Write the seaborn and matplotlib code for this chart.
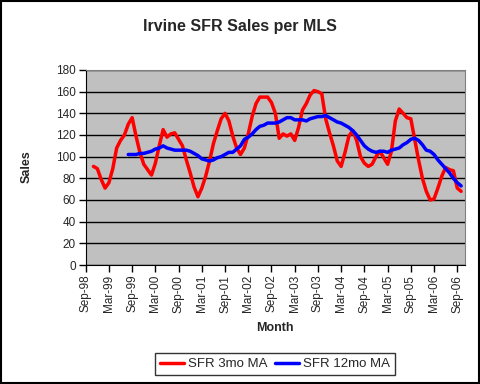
import numpy as np
import pandas as pd
import matplotlib
matplotlib.use("Agg")
import matplotlib.pyplot as plt
from matplotlib.patches import Rectangle
import seaborn as sns

# months Sep-98 .. Oct-06
months = pd.period_range("1998-09", "2006-10", freq="M")

# SFR 3-month moving average, Nov-98 .. Oct-06
sfr_3mo = [91, 89, 79, 71, 76, 89, 108, 115, 120, 130, 136, 119, 104, 93, 88, 83,
           94, 110, 125, 118, 121, 122, 116, 110, 97, 85, 72, 63, 71, 82, 96, 112,
           124, 135, 140, 133, 119, 108, 102, 108, 121, 137, 149, 155, 155, 155, 150, 140,
           117, 121, 119, 121, 115, 127, 143, 149, 157, 161, 160, 158, 135, 122, 110, 96,
           91, 104, 119, 124, 115, 100, 94, 91, 93, 100, 105, 99, 93, 105, 133, 144,
           140, 136, 135, 116, 97, 80, 68, 60, 61, 71, 82, 90, 88, 87, 71, 68]

# SFR 12-month moving average, Aug-99 .. Oct-06
sfr_12mo = [102, 102, 102, 103, 103, 104, 105, 107, 108, 110, 108, 107, 106, 106, 106, 106,
            105, 103, 101, 98, 97, 96, 97, 99, 100, 102, 104, 104, 107, 110, 116, 118,
            121, 125, 128, 129, 131, 131, 131, 132, 134, 136, 136, 134, 134, 134, 133, 135,
            136, 137, 137, 138, 136, 134, 132, 131, 129, 127, 124, 120, 115, 110, 107, 105,
            104, 105, 105, 104, 106, 107, 108, 111, 113, 116, 117, 115, 111, 106, 105, 102,
            97, 93, 89, 85, 80, 76, 73]

y_ticks = list(range(0, 181, 20))

n = len(months)
x_3mo = np.arange(n - len(sfr_3mo), n)
x_12mo = np.arange(n - len(sfr_12mo), n)
tick_pos = np.arange(0, n, 6)
tick_labels = [months[i].strftime("%b-%y") for i in tick_pos]

sns.set_style("white")
plt.rcParams["font.family"] = ["Liberation Sans", "DejaVu Sans"]

W, H = 480, 384
fig = plt.figure(figsize=(W / 100, H / 100), dpi=100)
left, right, top, bottom = 85.7, 465, 70, 265
ax = fig.add_axes([left / W, 1 - bottom / H, (right - left) / W, (bottom - top) / H])
ax.set_facecolor("#C0C0C0")

sns.lineplot(x=x_3mo, y=sfr_3mo, ax=ax, color="#FF0000", lw=2.5, label="SFR 3mo MA")
sns.lineplot(x=x_12mo, y=sfr_12mo, ax=ax, color="#0000FF", lw=2.5, label="SFR 12mo MA")

ax.set_xlim(0, 98)
ax.set_ylim(0, 180)
ax.set_yticks(y_ticks)
ax.set_yticklabels([str(v) for v in y_ticks], fontsize=8.5)
ax.set_xticks(tick_pos)
ax.set_xticklabels(tick_labels, rotation=90, fontsize=8.5)
ax.yaxis.grid(True, color="black", lw=1)
ax.set_axisbelow(True)
ax.tick_params(axis="both", direction="out", length=5, width=1, color="black", pad=2,
               bottom=True, left=True)
for s in ["top", "right"]:
    ax.spines[s].set_color("#808080")
for s in ["left", "bottom"]:
    ax.spines[s].set_color("black")
ax.set_xlabel("")
ax.set_ylabel("")

handles, labels = ax.get_legend_handles_labels()
ax.legend_.remove()
leg = fig.legend(handles, labels, loc="center", bbox_to_anchor=(275 / W, 1 - 364 / H),
                 ncol=2, frameon=True, fancybox=False, edgecolor="black", fontsize=9.5,
                 handlelength=1.8, handletextpad=0.3, columnspacing=0.6, borderpad=0.4,
                 borderaxespad=0)
leg.get_frame().set_linewidth(1)

fig.text(0.5, 1 - 26 / H, "Irvine SFR Sales per MLS", ha="center", va="center",
         fontsize=11.5, fontweight="bold")
fig.text(27 / W, 1 - 167 / H, "Sales", ha="center", va="center", rotation=90,
         fontsize=9, fontweight="bold")
fig.text(275 / W, 1 - 328 / H, "Month", ha="center", va="center",
         fontsize=9, fontweight="bold")

fig.patches.append(Rectangle((0.002, 0.002), 0.996, 0.996, transform=fig.transFigure,
                             fill=False, ec="black", lw=1.5))

fig.savefig("out.png", dpi=100)
